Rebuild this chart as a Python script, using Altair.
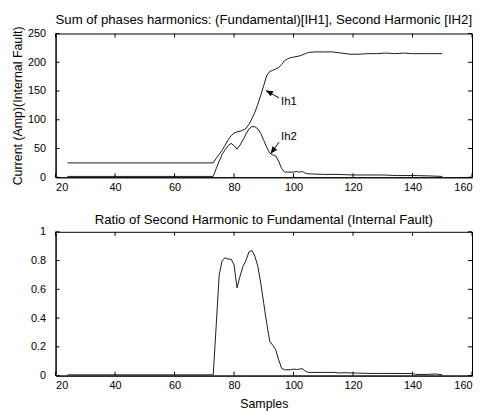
import altair as alt
import pandas as pd

# ---- data ----
ih1_x = [24, 73, 74, 75, 76, 77, 78, 79, 80, 81, 82, 83, 84, 85, 86, 87, 88, 89, 90, 91, 92, 93, 94, 95, 96, 97, 98, 99, 100,
         102, 104, 105, 107, 110, 113, 116, 119, 122, 125, 128, 131, 134, 137, 140, 145, 150]
ih1_y = [25, 25, 33, 40, 47, 56, 65, 72, 77, 79, 80, 82, 85, 92, 102, 113, 127, 143, 160, 177, 184, 186, 188, 191, 196, 203, 206, 208, 209,
         211, 215, 217, 218, 218, 218, 216, 214, 214, 215, 215, 216, 215, 216, 215, 215, 215]

ih2_x = [24, 73, 74, 75, 76, 77, 78, 79, 80, 81, 82, 83, 84, 85, 86, 87, 88, 89, 90, 91, 92, 93, 94, 95, 96, 97, 98,
         100, 101, 102, 103, 104, 105, 110, 115, 120, 125, 130, 135, 140, 145, 150]
ih2_y = [1.5, 1.5, 15, 28, 40, 48, 55, 59, 55, 49, 56, 65, 75, 84, 88, 88, 84, 76, 64, 52, 42, 39, 37, 28, 15, 9, 9,
         9, 10, 9, 10, 7, 6, 5, 5, 4, 4, 4, 3, 3, 2.5, 1.5]

ratio_x = [24, 73, 74, 75, 76, 77, 78, 79, 80, 81, 82, 83, 84, 85, 86, 87, 88, 89, 90, 91, 92, 93, 94, 95, 96, 97,
           99, 100, 101, 102, 103, 104, 105, 110, 114, 115, 117, 120, 125, 130, 140, 141, 145, 148, 150]
ratio_y = [0.005, 0.005, 0.35, 0.7, 0.8, 0.82, 0.81, 0.81, 0.77, 0.61, 0.69, 0.76, 0.8, 0.86, 0.87, 0.83, 0.76, 0.64, 0.5, 0.36,
           0.24, 0.21, 0.18, 0.11, 0.05, 0.04,
           0.04, 0.045, 0.042, 0.045, 0.048, 0.03, 0.022, 0.022, 0.022, 0.018, 0.02, 0.018, 0.015, 0.015, 0.014, 0.008, 0.008, 0.011, 0.005]

x_ticks = [20, 40, 60, 80, 100, 120, 140, 160]
cur_ticks = [0, 50, 100, 150, 200, 250]
ratio_ticks = [0, 0.2, 0.4, 0.6, 0.8, 1]

ann_labels = ["Ih1", "Ih2"]
ann_text_x = [95.8, 95.8]
ann_text_y = [130, 70]
arrow_tail_x = [95.1, 95.1]
arrow_tail_y = [138, 61]
arrow_tip_x = [90.7, 92.3]
arrow_tip_y = [151, 41]
arrow_angle = [298, 216]

top_title = "Sum of phases harmonics: (Fundamental)[IH1], Second Harmonic [IH2]"
bottom_title = "Ratio of Second Harmonic to Fundamental (Internal Fault)"
y_title = "Current (Amp)(Internal Fault)"
x_title = "Samples"

# ---- styling ----
W, H = 420, 145
FONT = "Liberation Sans"
LINE = "#1a1a1a"
TK = 4

xscale = alt.Scale(domain=[20, 160], nice=False, zero=False)


def xenc(title):
    return alt.X("x:Q", scale=xscale,
                 axis=alt.Axis(values=x_ticks, title=title, labelPadding=4, titlePadding=7,
                               format="d"))


def yenc(domain, ticks, title, fmt_expr):
    kw = dict(values=ticks, labelPadding=10, minExtent=27, maxExtent=27, titlePadding=4,
              labelExpr=fmt_expr)
    kw["title"] = title if title else None
    return alt.Y("y:Q", scale=alt.Scale(domain=domain, nice=False), axis=alt.Axis(**kw))


def box_ticks(yt, ydomain, ytitle, fmt_expr, xtitle):
    xt = pd.DataFrame({"x": x_ticks})
    ytd = pd.DataFrame({"y": yt})
    xe = xenc(xtitle)
    ye = yenc(ydomain, yt, ytitle, fmt_expr)
    layers = [
        alt.Chart(xt).mark_rule(color="black", strokeWidth=1).encode(x=xe, y=alt.value(0), y2=alt.value(TK)),
        alt.Chart(xt).mark_rule(color="black", strokeWidth=1).encode(x=xe, y=alt.value(H), y2=alt.value(H - TK)),
        alt.Chart(ytd).mark_rule(color="black", strokeWidth=1).encode(y=ye, x=alt.value(0), x2=alt.value(TK)),
        alt.Chart(ytd).mark_rule(color="black", strokeWidth=1).encode(y=ye, x=alt.value(W), x2=alt.value(W - TK)),
    ]
    return layers, xe, ye


# ---- top panel ----
cur_dom = [0, 250]
cur_fmt = "'' + datum.value"
tl, xe_t, ye_t = box_ticks(cur_ticks, cur_dom, y_title, cur_fmt, None)

df1 = pd.DataFrame({"x": ih1_x, "y": ih1_y})
df2 = pd.DataFrame({"x": ih2_x, "y": ih2_y})
l1 = alt.Chart(df1).mark_line(color=LINE, strokeWidth=1).encode(x=xe_t, y=ye_t)
l2 = alt.Chart(df2).mark_line(color=LINE, strokeWidth=1).encode(x=xe_t, y=ye_t)

shaft_rows = []
for i, lab in enumerate(ann_labels):
    shaft_rows.append({"x": arrow_tail_x[i], "y": arrow_tail_y[i], "g": lab, "o": 0})
    shaft_rows.append({"x": arrow_tip_x[i], "y": arrow_tip_y[i], "g": lab, "o": 1})
shafts = alt.Chart(pd.DataFrame(shaft_rows)).mark_line(color="black", strokeWidth=1).encode(
    x=xe_t, y=ye_t, detail="g:N", order="o:Q")

heads_df = pd.DataFrame({"x": arrow_tip_x, "y": arrow_tip_y, "a": arrow_angle})
heads = alt.Chart(heads_df).mark_point(
    shape="M0,0L-0.42,1L0.42,1Z", filled=True, color="black", opacity=1, size=200, strokeWidth=0
).encode(x=xe_t, y=ye_t, angle=alt.Angle("a:Q", scale=None))

txt_df = pd.DataFrame({"x": ann_text_x, "y": ann_text_y, "t": ann_labels})
texts = alt.Chart(txt_df).mark_text(align="left", baseline="middle", font=FONT, fontSize=11.5, color="black").encode(
    x=xe_t, y=ye_t, text="t:N")

title_kw = dict(font=FONT, fontSize=13.3, fontWeight="normal", color="black", anchor="middle", offset=0)

top = alt.layer(l1, l2, shafts, heads, texts, *tl).properties(
    width=W, height=H, title=alt.TitleParams(top_title, **title_kw))

# ---- bottom panel ----
rat_dom = [0, 1]
rat_fmt = "'' + datum.value"
bl, xe_b, ye_b = box_ticks(ratio_ticks, rat_dom, None, rat_fmt, x_title)
df3 = pd.DataFrame({"x": ratio_x, "y": ratio_y})
l3 = alt.Chart(df3).mark_line(color=LINE, strokeWidth=1).encode(x=xe_b, y=ye_b)

bottom = alt.layer(l3, *bl).properties(
    width=W, height=H, title=alt.TitleParams(bottom_title, **title_kw))

chart = alt.vconcat(top, bottom, spacing=19).properties(
    padding={"left": 3, "top": 2, "right": 0, "bottom": 0}
).configure_view(stroke="black", strokeWidth=1).configure_axis(
    labelFont=FONT, labelFontSize=11, labelColor="black",
    titleFont=FONT, titleFontSize=12.5, titleFontWeight="normal", titleColor="black",
    domainColor="black", domainWidth=1, tickSize=0, grid=False
)

chart.save("out.html", embed_options={"renderer": "svg", "actions": False})
